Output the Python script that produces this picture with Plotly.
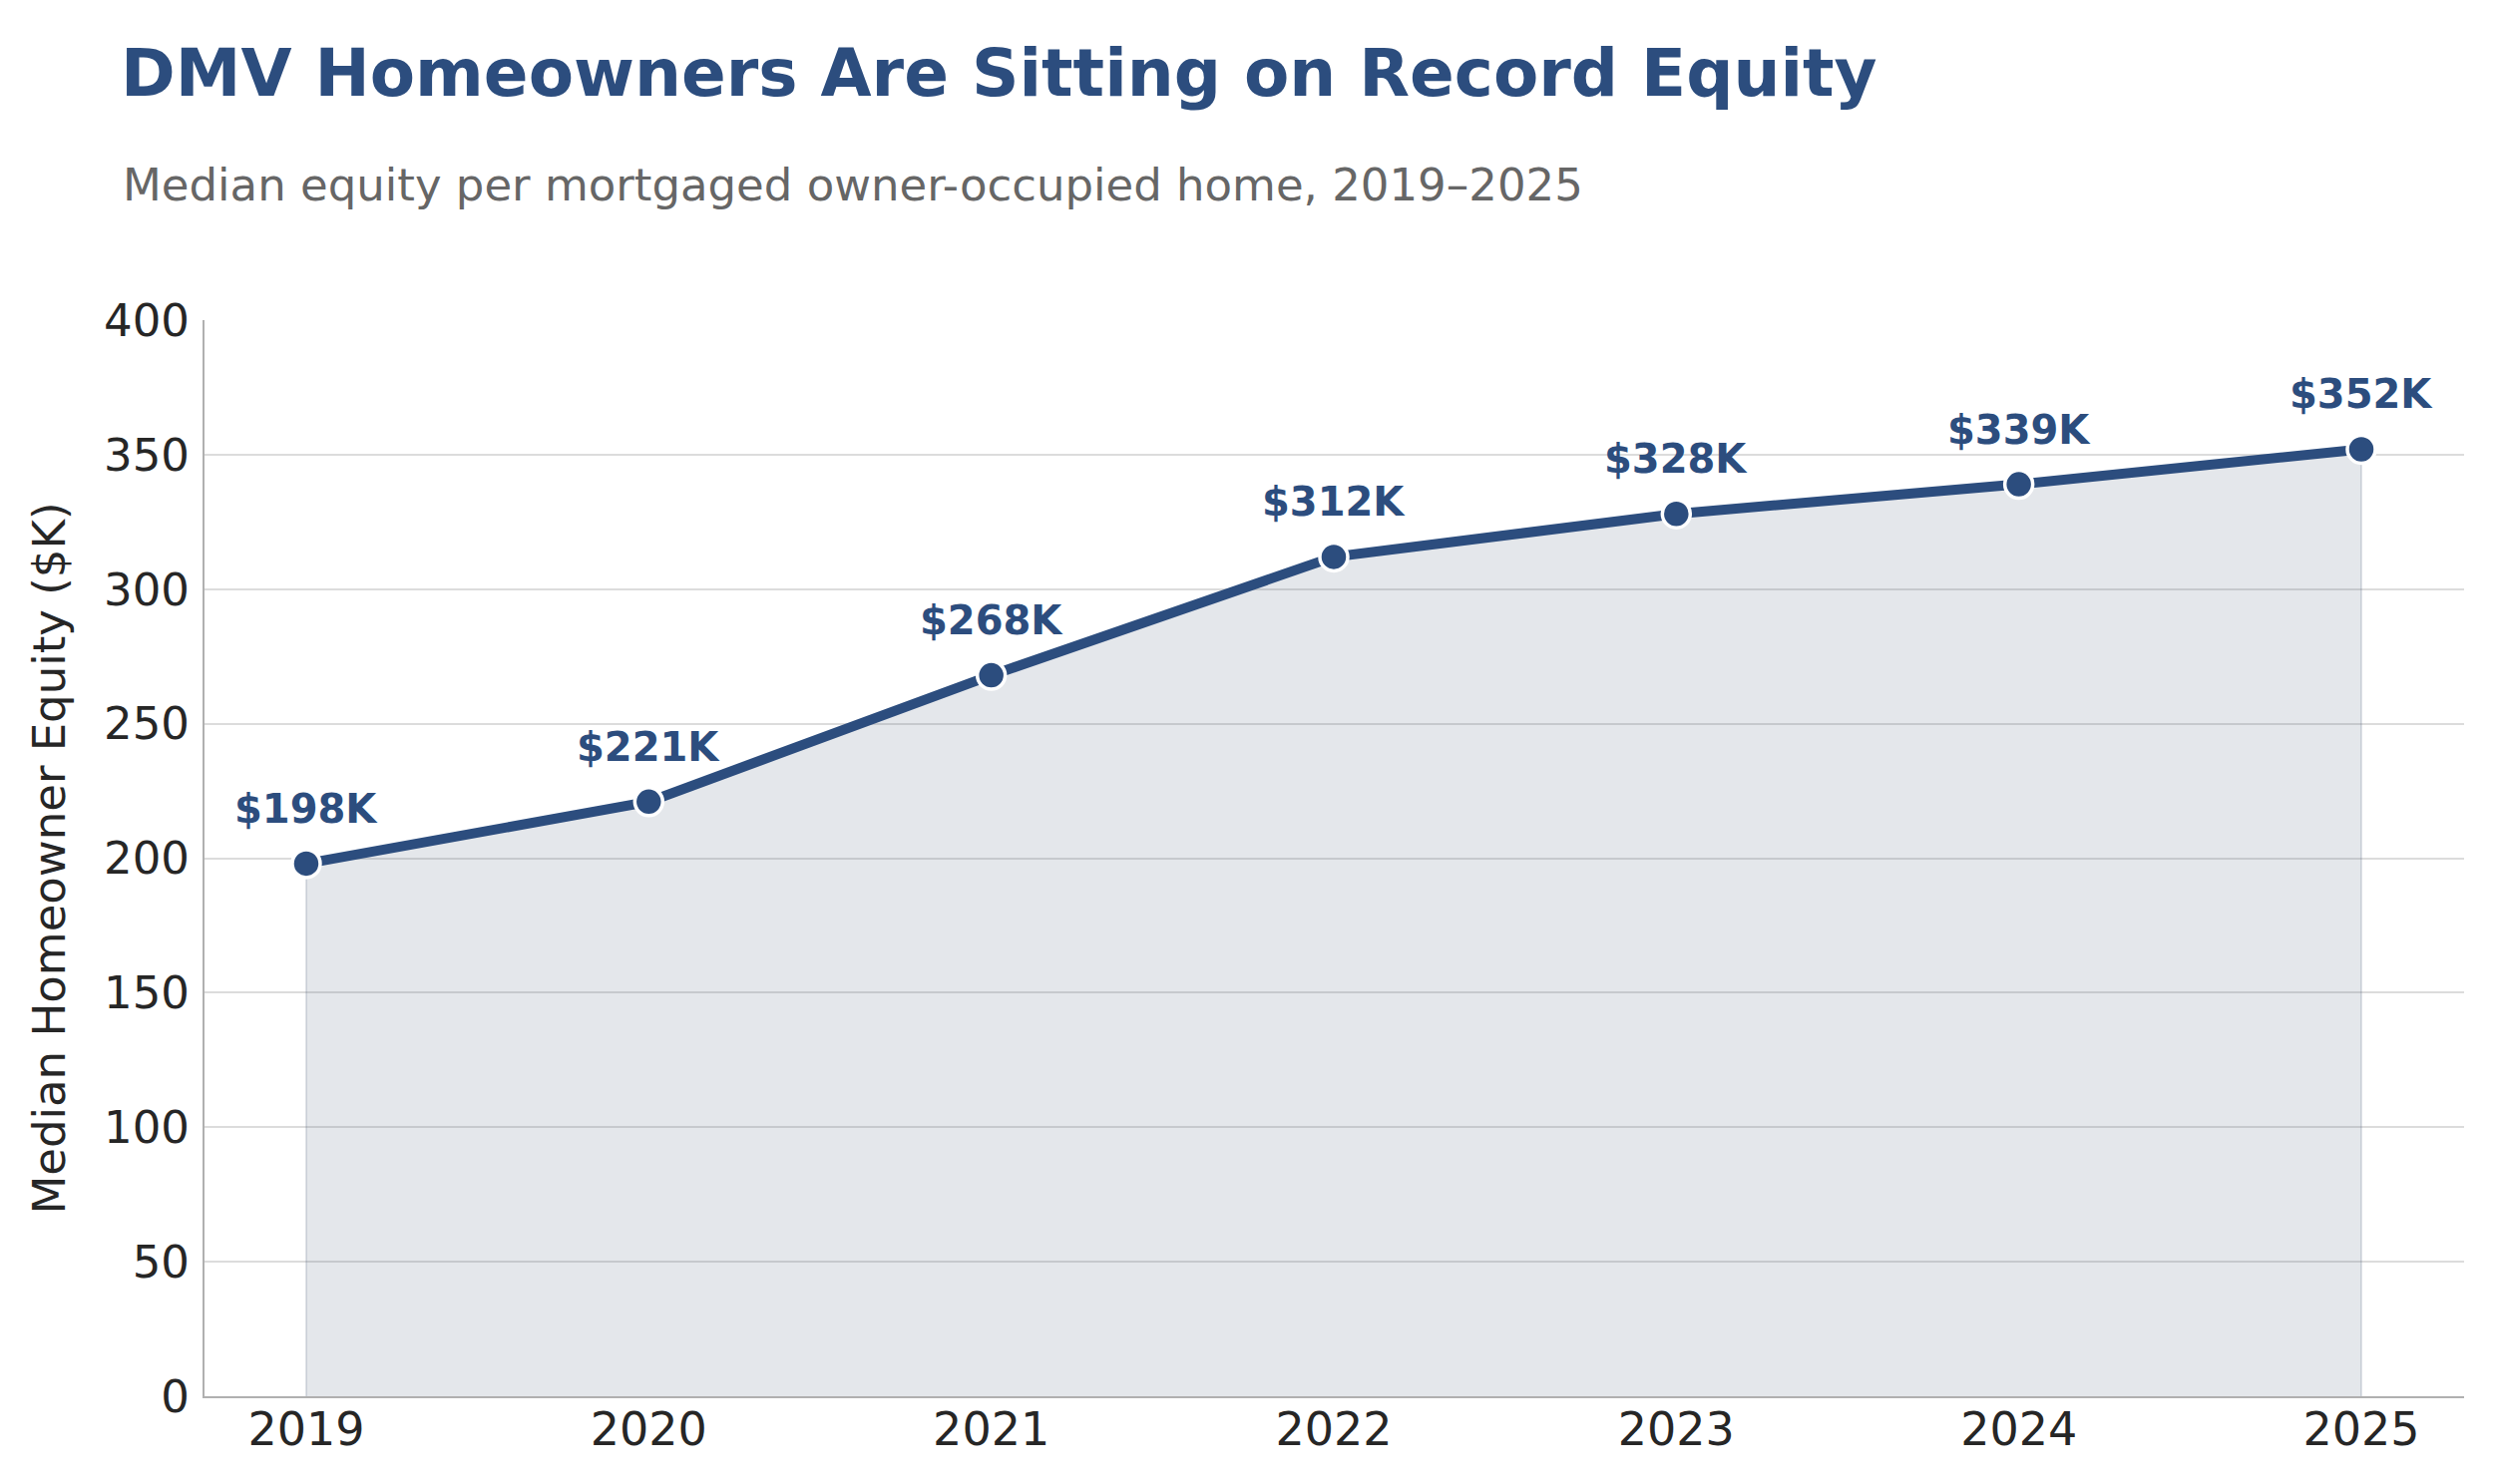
import plotly.graph_objects as go

# data
years = [2019, 2020, 2021, 2022, 2023, 2024, 2025]
equity_k = [198, 221, 268, 312, 328, 339, 352]
labels = [f"${v}K" for v in equity_k]

navy = "#2c4d7e"
W, H = 2500, 1488
m_l, m_r, m_t, m_b = 197, 38, 313, 96
plot_w = W - m_l - m_r
plot_h = H - m_t - m_b

fig = go.Figure()
fig.add_trace(go.Scatter(
    x=years, y=equity_k,
    mode="lines+markers",
    line=dict(color=navy, width=10),
    marker=dict(size=28, color=navy, line=dict(color="white", width=3.5)),
    fill="tozeroy",
    fillcolor="rgba(75,95,122,0.15)",
    hoverinfo="skip",
    showlegend=False,
))
# faint edges of the shaded area at both ends
fig.add_trace(go.Scatter(
    x=[years[0], years[0], None, years[-1], years[-1]],
    y=[0, equity_k[0], None, 0, equity_k[-1]],
    mode="lines",
    line=dict(color="rgba(75,95,122,0.18)", width=2),
    hoverinfo="skip",
    showlegend=False,
))
# keep the main line on top of the edge strokes
fig.data = (fig.data[1], fig.data[0])

# value labels above each point
for x, y, t in zip(years, equity_k, labels):
    fig.add_annotation(
        x=x, y=y, text=f"<b>{t}</b>", showarrow=False,
        yshift=55, yanchor="middle",
        font=dict(family="DejaVu Sans", size=40, color=navy),
    )

# subtitle
fig.add_annotation(
    xref="paper", yref="paper",
    x=(113 - m_l) / plot_w, y=(H - m_b - 178) / plot_h,
    xanchor="left", yanchor="middle",
    text="Median equity per mortgaged owner-occupied home, 2019–2025",
    showarrow=False,
    font=dict(family="DejaVu Sans", size=45, color="#666666"),
)

fig.update_layout(
    width=W, height=H,
    margin=dict(l=m_l, r=m_r, t=m_t, b=m_b),
    paper_bgcolor="white", plot_bgcolor="white",
    title=dict(
        text="<b>DMV Homeowners Are Sitting on Record Equity</b>",
        x=113 / W, xref="container", xanchor="left",
        y=1 - 65 / H, yref="container", yanchor="middle",
        font=dict(family="DejaVu Sans", size=66, color=navy),
    ),
    xaxis=dict(
        range=[2018.703, 2025.3],
        tickmode="array", tickvals=years,
        showgrid=False, zeroline=False,
        showline=True, linecolor="#b0b0b0", linewidth=2,
        ticks="", ticklabelstandoff=-8,
        tickfont=dict(family="DejaVu Sans", size=46, color="#262626"),
    ),
    yaxis=dict(
        range=[0, 400], dtick=50,
        showgrid=True, gridcolor="#dcdcdc", gridwidth=2,
        zeroline=False,
        showline=True, linecolor="#b0b0b0", linewidth=2,
        ticks="", ticklabelstandoff=4,
        tickfont=dict(family="DejaVu Sans", size=45, color="#262626"),
        title=dict(text="Median Homeowner Equity ($K)", standoff=24,
                   font=dict(family="DejaVu Sans", size=45, color="#262626")),
    ),
)

fig.write_html("out.html")
